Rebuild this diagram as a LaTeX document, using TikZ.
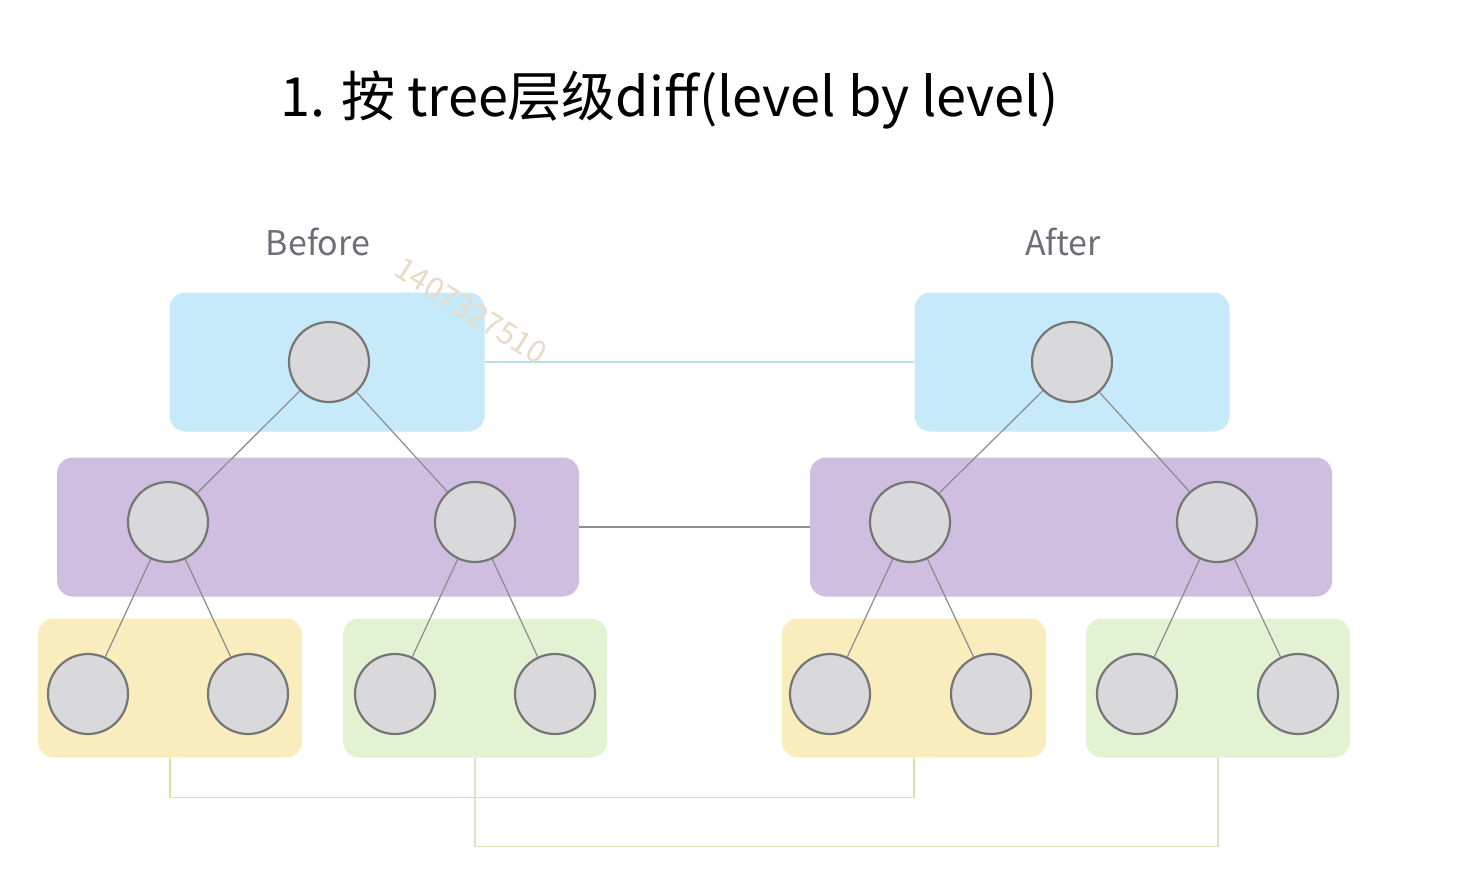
\documentclass[tikz,border=0pt]{standalone}
\usepackage{fontspec}
\setmainfont{Noto Sans CJK SC}
\definecolor{lvlblue}{HTML}{C6EAFA}
\definecolor{lvlpurple}{HTML}{CFBEE0}
\definecolor{lvlyellow}{HTML}{F9EDBE}
\definecolor{lvlgreen}{HTML}{E4F2D4}
\definecolor{vtxfill}{HTML}{D9D8DB}
\definecolor{vtxline}{HTML}{767677}
\definecolor{edgegray}{HTML}{8C8C8C}
\definecolor{linkblue}{HTML}{B9DCF0}
\definecolor{linkgray}{HTML}{8F8F8F}
\definecolor{linkyellow}{HTML}{E2DFA6}
\definecolor{linkgreen}{HTML}{D6E7C2}
\definecolor{labelgray}{HTML}{6E6E78}
\definecolor{markbeige}{HTML}{E9DAC6}
\begin{document}
\begin{tikzpicture}[x=1pt,y=-1pt,
  box/.style={rounded corners=16pt, minimum width=#1, minimum height=139pt, inner sep=0pt},
  vtx/.style={circle, draw=vtxline, fill=vtxfill, line width=2.2pt, minimum size=80pt, inner sep=0pt},
  edge/.style={draw=edgegray, line width=1.2pt}]

\fill[white] (0,0) rectangle (1460,878);
\useasboundingbox (0,0) rectangle (1460,878);

\node[anchor=base west, inner xsep=0pt, font=\fontsize{54}{64}\selectfont] (title) at (280,116) {1. 按 tree层级diff(level by level)};
\node[anchor=base, text=labelgray, font=\fontsize{34}{40}\selectfont] (before) at (318,255) {Before};
\node[anchor=base, text=labelgray, font=\fontsize{34}{40}\selectfont] (after) at (1063,255) {After};

% level boxes
\node[box=315pt, fill=lvlblue] (bBlue) at (327,362) {};
\node[box=315pt, fill=lvlblue] (aBlue) at (1072,362) {};
\node[box=522pt, fill=lvlpurple] (bPurple) at (318,527) {};
\node[box=522pt, fill=lvlpurple] (aPurple) at (1071,527) {};
\node[box=264pt, fill=lvlyellow] (bYellow) at (170,688) {};
\node[box=264pt, fill=lvlgreen] (bGreen) at (475,688) {};
\node[box=264pt, fill=lvlyellow] (aYellow) at (914,688) {};
\node[box=264pt, fill=lvlgreen] (aGreen) at (1218,688) {};

% same level compared
\draw[linkblue, line width=2pt] (bBlue.east) -- (aBlue.west);
\draw[linkgray, line width=1.5pt] (bPurple.east) -- (aPurple.west);
\draw[linkyellow, line width=1.5pt] (bYellow.south) -- ++(0,40) -| (aYellow.south);
\draw[linkgreen, line width=1.5pt] (bGreen.south) -- ++(0,89) -| (aGreen.south);

% before tree
\node[vtx] (b0) at (329,362) {};
\node[vtx] (b1) at (168,522) {};
\node[vtx] (b2) at (475,522) {};
\node[vtx] (b3) at (88,694) {};
\node[vtx] (b4) at (248,694) {};
\node[vtx] (b5) at (395,694) {};
\node[vtx] (b6) at (555,694) {};
\draw[edge] (b0) -- (b1);
\draw[edge] (b0) -- (b2);
\draw[edge] (b1) -- (b3);
\draw[edge] (b1) -- (b4);
\draw[edge] (b2) -- (b5);
\draw[edge] (b2) -- (b6);

% after tree
\node[vtx] (a0) at (1072,362) {};
\node[vtx] (a1) at (910,522) {};
\node[vtx] (a2) at (1217,522) {};
\node[vtx] (a3) at (830,694) {};
\node[vtx] (a4) at (991,694) {};
\node[vtx] (a5) at (1137,694) {};
\node[vtx] (a6) at (1298,694) {};
\draw[edge] (a0) -- (a1);
\draw[edge] (a0) -- (a2);
\draw[edge] (a1) -- (a3);
\draw[edge] (a1) -- (a4);
\draw[edge] (a2) -- (a5);
\draw[edge] (a2) -- (a6);

\node[rotate=-32, text=markbeige, font=\fontsize{31}{34}\selectfont] (mark) at (471,311) {1407327510};
\end{tikzpicture}
\end{document}
